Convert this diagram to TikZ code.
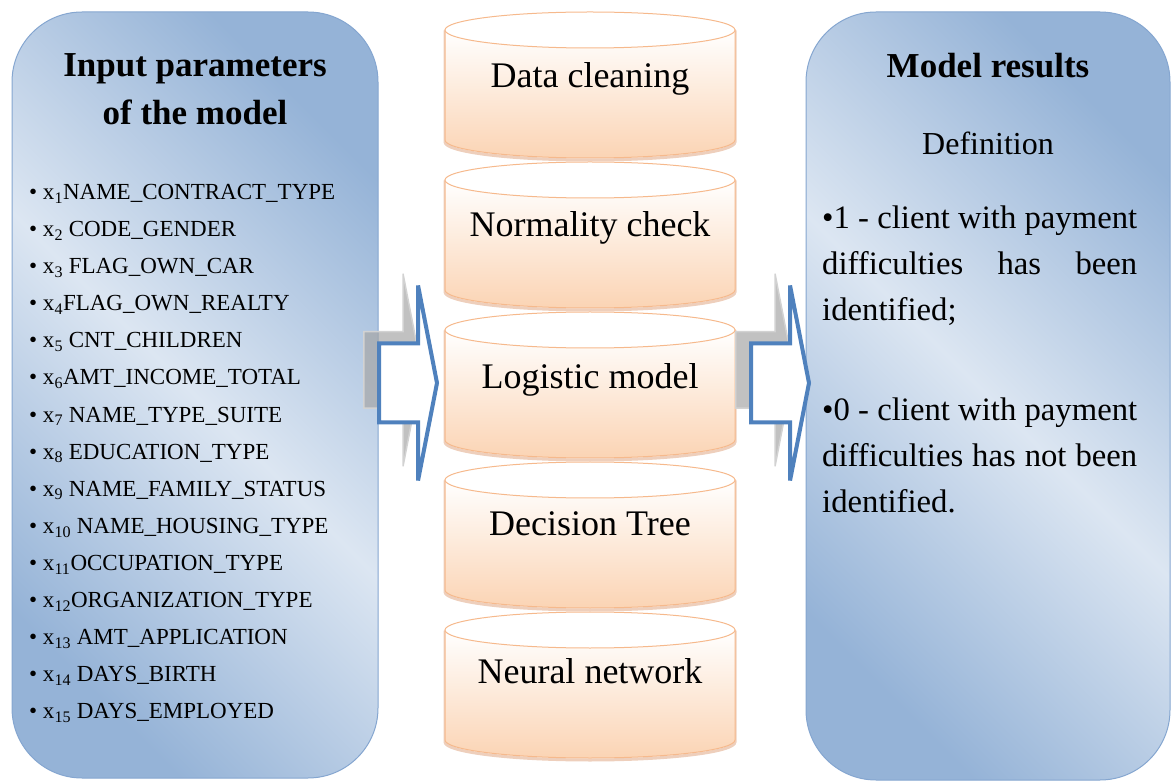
\documentclass[tikz,border=0pt]{standalone}
\usepackage{fontspec}
\setmainfont{Liberation Serif}
\usetikzlibrary{shapes,arrows,positioning}

\definecolor{panelD}{HTML}{95B3D7}
\definecolor{panelL}{HTML}{DCE6F2}
\definecolor{panelline}{HTML}{85A6D0}
\definecolor{drumfill}{HTML}{FBD4B4}
\definecolor{drumline}{HTML}{F6B98C}
\definecolor{drumshade}{HTML}{D9956A}
\definecolor{arrowblue}{HTML}{4F81BD}
\definecolor{shadowgray}{HTML}{A6A6A6}

\begin{document}
\begin{tikzpicture}[x=1pt, y=1pt,
    panel/.style={rectangle, rounded corners=70pt, draw=panelline, line width=1pt, top color=panelD, bottom color=panelD, middle color=panelL, shading angle=-45},
    title/.style={inner sep=0pt, align=center, font=\bfseries\fontsize{35}{48}\selectfont},
    params/.style={inner sep=0pt, align=left, font=\fontsize{23}{37.1}\selectfont},
    defn/.style={inner sep=0pt, font=\fontsize{32}{40}\selectfont},
    result/.style={inner sep=0pt, align=left, font=\fontsize{32.7}{46}\selectfont},
    drumbody/.style={top color=white, bottom color=drumfill, draw=drumline, line width=1pt,
        preaction={draw=drumshade, line width=3pt, opacity=.45, transform canvas={yshift=-2pt}}},
    drumlid/.style={draw=drumline, line width=1pt, fill=white},
    stage/.style={inner sep=0pt, anchor=base, font=\fontsize{36}{40}\selectfont},
    bigarrow/.style={single arrow, draw=arrowblue, line width=4pt, fill=white, inner sep=0pt,
        minimum height=58pt, text height=75pt, text depth=0pt,
        single arrow head extend=58pt, single arrow tip angle=158, anchor=tail},
    arrowshadow/.style={bigarrow, draw=shadowgray!50, line width=1.5pt, fill=shadowgray, fill opacity=.7}]

    \useasboundingbox (0,0) rectangle (1176,-783);

    % Panels
    \node[panel, minimum width=366pt, minimum height=766pt] (inpanel) at (195,-395) {};
    \node[panel, minimum width=364pt, minimum height=768pt] (outpanel) at (988,-396) {};

    % Input parameters
    \node[title, below=42pt of inpanel.north] (intitle) {Input parameters\\of the model};
    \node[params, anchor=north west] (inlist) at (29,-184) {%
        \textbullet\ x\textsubscript{1}NAME\_CONTRACT\_TYPE\\
        \textbullet\ x\textsubscript{2} CODE\_GENDER\\
        \textbullet\ x\textsubscript{3} FLAG\_OWN\_CAR\\
        \textbullet\ x\textsubscript{4}FLAG\_OWN\_REALTY\\
        \textbullet\ x\textsubscript{5} CNT\_CHILDREN\\
        \textbullet\ x\textsubscript{6}AMT\_INCOME\_TOTAL\\
        \textbullet\ x\textsubscript{7} NAME\_TYPE\_SUITE\\
        \textbullet\ x\textsubscript{8} EDUCATION\_TYPE\\
        \textbullet\ x\textsubscript{9} NAME\_FAMILY\_STATUS\\
        \textbullet\ x\textsubscript{10} NAME\_HOUSING\_TYPE\\
        \textbullet\ x\textsubscript{11}OCCUPATION\_TYPE\\
        \textbullet\ x\textsubscript{12}ORGANIZATION\_TYPE\\
        \textbullet\ x\textsubscript{13} AMT\_APPLICATION\\
        \textbullet\ x\textsubscript{14} DAYS\_BIRTH\\
        \textbullet\ x\textsubscript{15} DAYS\_EMPLOYED};

    % Model results
    \node[title, below=42pt of outpanel.north] (outtitle) {Model results};
    \node[defn, below=53pt of outtitle] (defn) {Definition};
    \node[result, anchor=north west] (outtext) at (822,-206) {%
        \makebox[315pt][s]{\textbullet1 - client with payment}\\
        \makebox[315pt][s]{difficulties has been}\\
        identified;\\[54pt]
        \makebox[315pt][s]{\textbullet0 - client with payment}\\
        \makebox[315pt][s]{difficulties has not been}\\
        identified.};

    % Stages
    \path[drumbody] (445,-30) -- (445,-140) arc[start angle=180, end angle=360, x radius=145, y radius=18] -- (735,-30) -- cycle;
    \draw[drumlid] (590,-30) ellipse[x radius=145, y radius=18];
    \node[stage] (clean) at (590,-88) {Data cleaning};

    \path[drumbody] (445,-180) -- (445,-290) arc[start angle=180, end angle=360, x radius=145, y radius=18] -- (735,-180) -- cycle;
    \draw[drumlid] (590,-180) ellipse[x radius=145, y radius=18];
    \node[stage] (normal) at (590,-237) {Normality check};

    \path[drumbody] (445,-330) -- (445,-440) arc[start angle=180, end angle=360, x radius=145, y radius=18] -- (735,-330) -- cycle;
    \draw[drumlid] (590,-330) ellipse[x radius=145, y radius=18];
    \node[stage] (logit) at (590,-389) {Logistic model};

    \path[drumbody] (445,-480) -- (445,-590) arc[start angle=180, end angle=360, x radius=145, y radius=18] -- (735,-480) -- cycle;
    \draw[drumlid] (590,-480) ellipse[x radius=145, y radius=18];
    \node[stage] (tree) at (590,-535) {Decision Tree};

    \path[drumbody] (445,-630) -- (445,-740) arc[start angle=180, end angle=360, x radius=145, y radius=18] -- (735,-630) -- cycle;
    \draw[drumlid] (590,-630) ellipse[x radius=145, y radius=18];
    \node[stage] (neural) at (590,-683) {Neural network};

    % Arrows
    \node[arrowshadow] (inshadow) at (363,-370) {};
    \node[bigarrow] (inarrow) at (377,-383) {};
    \node[arrowshadow] (outshadow) at (735,-370) {};
    \node[bigarrow] (outarrow) at (749,-383) {};

\end{tikzpicture}
\end{document}
